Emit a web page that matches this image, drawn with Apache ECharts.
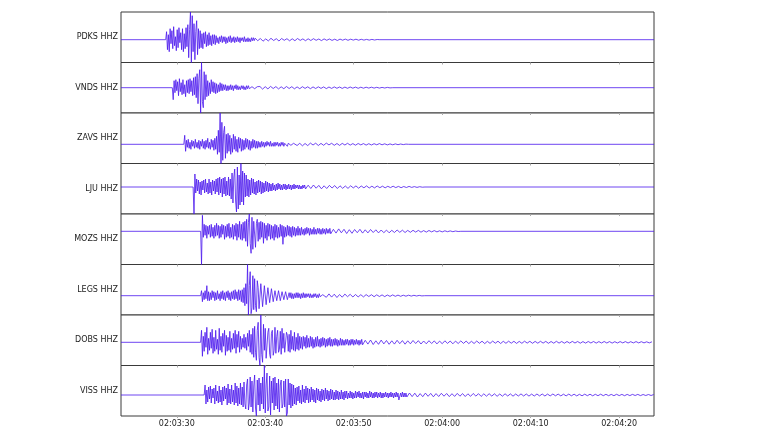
<!DOCTYPE html>
<html>
<head>
<meta charset="utf-8">
<script src="https://cdn.jsdelivr.net/npm/echarts@6/dist/echarts.min.js"></script>
<style>
html,body{margin:0;padding:0;background:#fff;}
#chart{width:768px;height:432px;}
</style>
</head>
<body>
<div id="chart"></div>
<script>
// Time in seconds after 02:03:00
const X_MIN = 23.7;
const X_MAX = 83.93;
const tickSeconds = [30, 40, 50, 60, 70, 80];
const stations = ["PDKS HHZ", "VNDS HHZ", "ZAVS HHZ", "LJU HHZ", "MOZS HHZ", "LEGS HHZ", "DOBS HHZ", "VISS HHZ"];
const onsets = [28.75, 29.5, 30.8, 31.85, 32.7, 32.7, 32.7, 33.1];
const ACTIVE_DT = 0.1;
const TAIL_DT = 0.3;

// Active part of each trace (one sample every ACTIVE_DT s after onset)
const pdksActive = [8,-10,5,-12,11,-4,9,-9,13,-6,3,-11,10,-8,12,-3,7,-10,11,-12,6,-9,12,-7,
  15,-18,10,27.7,-22.8,24,-12,16,-20,8,19,-15,11,-9,
  9,-8,6,-9,7,-4,8,-7,5,-6,7,-5,4,-6,5,-4,5,-5,
  4,-3,2,-4,3,-2,4,-3,3,-2,3,-4,2,-3,3,-2,4,-3,2,-2,3,-3,2,-2,3,-2,2,-3,2,-1,2,-2,3,-2,1,-2,2,-2,1,-2,2,-1,2,-1];
const vndsActive = [-12,7,-5,8,-3,6,-8,9,-4,5,-7,8,-6,3,-9,7,-5,8,-6,9,-4,7,-8,10,-7,11,
  -10,14,-16,9,18,-25.3,25.2,-14,-20,16,-12,13,
  -9,7,-8,5,-6,8,-4,6,-5,5,-6,4,-5,3,-4,5,-3,4,
  -3,3,-2,3,-3,2,-3,2,-2,3,-2,2,-3,2,-1,3,-2,2,-2,1,-2,2,-1,2,-2,1,-2,2,-1,2,-1,1,-2,1,-1,2,-1,1,-1,1,-1,1];
const zavsActive = [9,-7,4,-3,5,-4,2,-5,4,-2,3,-4,5,-3,2,-4,4,-5,3,-2,5,-4,3,-5,4,-3,6,-4,2,-5,5,-3,4,-6,6,-5,
  8,-10,14,-8,31.3,-19.2,22,-16,12,18,-14,10,
  -9,11,-7,9,-10,6,-8,10,-5,8,-7,5,-8,7,-4,6,-7,5,-6,4,-5,6,-3,5,-5,4,-6,3,-4,5,-3,4,-4,3,-4,3,
  -3,2,-3,3,-2,2,-3,2,-2,3,-1,2,-2,3,-2,1,-2,2,-2,2,-1,2,-2,1,-2,2,-1,2,-2,1,-1,2,-2,1,-1,2,-1,1,-2,1];
const ljuActive = [-27,13,-6,8,-4,7,-7,5,-8,6,-3,7,-6,8,-5,4,-7,8,-6,5,-8,7,-4,6,-7,8,-5,9,-8,10,-6,8,-10,9,-7,10,-9,6,-8,10,-9,8,
  -12,14,-16,10,18,-14,-25,20,-22,12,-18,23.5,-15,16,-18,14,-10,12,
  -9,8,-10,7,-8,9,-6,8,-7,5,-8,6,-6,7,-5,6,-7,5,-6,4,-5,6,-4,5,-5,4,
  -4,3,-4,4,-3,2,-4,3,-3,4,-2,3,-3,2,-3,3,-2,3,-3,2,-2,3,-2,2,-3,2,-2,3,-2,2,-1,2,-2,2,-2,1,-2,2,-1,2];
const mozsActive = [-33.2,16,-6,7,-4,6,-7,5,-3,6,-6,7,-5,4,-7,6,-5,8,-4,6,-7,5,-6,7,-3,6,-8,5,-6,7,-5,8,-7,4,-6,7,-8,6,-5,8,-9,7,-6,10,-8,7,-9,9,-7,10,
  -10,12,-15,9,17.3,-12,-22,14,-18,10,12,-16,8,12,
  -10,9,-8,10,-6,9,-12,8,-7,6,-9,8,-5,7,-8,6,-7,5,-9,7,-6,6,-7,4,-6,7,-5,6,-13,5,-6,4,-5,6,-4,5,-5,4,-6,5,-4,4,-5,3,-4,5,
  -4,3,-4,4,-3,2,-4,3,-3,4,-2,3,-4,3,-3,2,-3,4,-3,2,-3,3,-2,3,-3,2,-3,3,-2,2,-3,3,-2,2,-2,3];
const legsActive = [5,-6,3,-4,5,-3,10,-5,4,-5,3,-4,5,-2,4,-5,3,-4,5,-3,2,-5,4,-3,5,-4,3,-5,4,-2,5,-4,3,-5,4,-3,5,-4,6,-3,4,-5,6,-4,5,-6,6,-7,
  8,-10,12,-8,31.2,-19.3,10,24,-18,-12,20,-14,
  17,-10,-16,15,8,-13,-12,12,10,-11,-9,10,8,-9,-7,8,7,-7,-6,7,5,-6,-6,5,6,-5,-4,5,4,-5,-4,4,5,-4,-3,4,3,-4,
  -3,3,-2,3,-3,2,-3,2,-2,3,-2,3,-2,2,-3,2,-2,3,-2,2,-2,2,-1,2,-2,2,-2,1,-2,2,-1,2,-2,1,-2,2,-1,1,-2,1];
const dobsActive = [12,-14,6,-9,10,-5,15,-12,4,-8,10,-6,13,-11,5,-9,12,-7,3,-12,14,-8,6,-10,9,-4,12,-13,7,-9,5,-8,11,-10,4,-7,9,-6,12,-11,8,-5,11,-10,
  6,-7,4,-5,8,-6,5,-8,9,-4,12,-10,8,-12,14,-15,
  16,-10,-18,12,20,-15,-23.2,27.3,-12,-20,18,-8,14,-16,
  -15,10,14,-12,-16,9,12,-13,-8,15,-11,6,12,-10,-7,11,-12,14,-6,9,-10,-11,10,7,-9,8,-10,12,-7,6,-8,10,-9,5,-7,9,-8,6,
  -6,5,-7,6,-4,5,-6,7,-5,4,-5,6,-4,5,-6,3,-5,5,-4,6,-4,3,-5,4,-4,5,-3,4,-5,3,-4,4,-3,5,-4,3,-4,3,-3,4,-3,3,-4,2,-3,4,-3,3,-3,2,-3,3,-2,3,-3,2,-3,3,-2,3,-3,2,-2,3,-2,2,-3,2,-2,3];
const vissActive = [10,-9,5,-7,8,-4,9,-8,6,-3,7,-9,10,-6,4,-8,9,-7,5,-10,8,-6,9,-4,7,-10,11,-8,6,-9,10,-7,5,-10,12,-8,9,-11,7,-9,12,-10,8,-12,13,-9,
  -14,10,16,-15,-8,18,-12,14,-17,9,20,-13,-21,15,-10,17,-16,12,-9,18,-14,29.5,-18,10,22,-16,-12,19,-20,14,-8,17,-15,18,-11,12,-14,16,-17,10,15,-13,-9,14,-12,16,-21,-18,16,-10,12,-13,11,-11,
  10,-9,7,-10,8,-6,9,-8,5,-9,10,-7,6,-8,9,-5,7,-8,6,-7,8,-5,6,-7,5,-8,7,-5,6,-6,4,-7,6,-5,5,-6,7,-4,5,-6,4,-5,6,-4,5,-5,3,-5,5,-4,4,-5,3,-4,5,-4,3,-5,
  4,-3,4,-4,2,-3,4,-3,3,-4,2,-3,4,-3,3,-2,4,-3,2,-3,3,-4,3,-2,3,-3,2,-3,4,-2,3,-3,2,-3,3,-2,3,-3,2,-2,3,-3,2,-3,2,-2,3,-2,2,-3,2,-2,3,-2,2,-3,2,-2,3,-2,2,-5,-3,2,-2,3,-2,2,-2,2];

// Coda tails (one sample every TAIL_DT s after the active part)
const pdksTail = [1.5,-1,1.2,-1.5,0.8,-1.2,1.4,-0.8,1,-1.3,1.2,-0.6,1,-1.1,0.9,-1,1.2,-0.7,0.8,-1,0.9,-0.8,1,-0.6,0.7,-0.9,0.8,-0.6,0.7,-0.7,0.5,-0.8,0.6,-0.5,0.6,-0.6,0.5,-0.4,0.5,-0.5,0.4,-0.4,0.3,-0.4,0.3,-0.3,0.2];
const vndsTail = [1.2,-1.4,1,-1.2,1.3,-0.8,1.1,-1.2,0.9,-1,1.2,-0.8,1,-1.1,0.8,-1,1,-0.7,0.9,-1,0.8,-0.8,0.9,-0.7,0.8,-0.9,0.7,-0.7,0.8,-0.6,0.7,-0.7,0.6,-0.6,0.7,-0.5,0.6,-0.6,0.5,-0.5,0.5,-0.4,0.5,-0.4,0.4,-0.4,0.3,-0.3,0.3,-0.2];
const zavsTail = [1.5,-1.2,1,-1.5,0.8,-1.3,1.2,-0.7,1.1,-1.2,0.9,-1,1.2,-0.6,1,-1,0.8,-1.1,0.9,-0.7,1,-0.8,0.7,-0.9,0.8,-0.6,0.7,-0.8,0.6,-0.7,0.6,-0.5,0.7,-0.5,0.5,-0.6,0.4,-0.5,0.4,-0.4,0.3,-0.3,0.2];
const ljuTail = [-2,1.8,-1.5,2,-1.2,1.6,-1.8,1.2,-1.5,1.6,-1,1.4,-1.5,1.2,-1.3,1,-1.4,1.2,-0.9,1.1,-1.2,1,-0.8,1.1,-1,0.8,-0.9,1,-0.7,0.8,-0.8,0.7,-0.6,0.8,-0.6,0.6,-0.7,0.5,-0.5,0.6,-0.4,0.4,-0.4,0.3,-0.2];
const mozsTail = [-2.5,2,-1.8,2.4,-1.5,2,-2.2,1.6,-2,1.8,-1.4,2,-1.8,1.5,-1.6,1.8,-1.2,1.5,-1.6,1.3,-1.4,1.2,-1.5,1,-1.2,1.3,-1,1.1,-1.2,0.9,-1,1,-0.8,0.9,-0.9,0.7,-0.8,0.8,-0.6,0.7,-0.6,0.5,-0.6,0.5,-0.4,0.4,-0.4,0.3,-0.2];
const legsTail = [2,-1.6,1.8,-1.4,1.5,-1.8,1.2,-1.5,1.6,-1,1.4,-1.3,1.2,-1.2,1,-1.2,1.1,-0.8,1,-1,0.9,-0.8,0.8,-0.9,0.7,-0.7,0.8,-0.6,0.6,-0.6,0.5,-0.5,0.5,-0.4,0.4,-0.3,0.3,-0.2];
const dobsTail = [-2.5,2,-1.8,2.3,-2.2,1.5,-2,2.2,-1.6,1.8,-2,1.5,-1.8,2,-1.4,1.7,-1.9,1.5,-1.5,1.8,-1.2,1.6,-1.7,1.3,-1.5,1.6,-1.2,1.4,-1.6,1.2,-1.4,1.5,-1.1,1.3,-1.5,1.2,-1.2,1.4,-1.1,1.2,-1.3,1,-1.2,1.3,-1,1.1,-1.3,1,-1.1,1.2,-0.9,1.1,-1.2,1,-1,1.1,-0.9,1,-1.1,0.9,-1,1.1,-0.8,1,-1,0.9,-0.9,1,-0.8,0.9,-1,0.8,-0.9,1,-0.8,0.8,-0.9,0.8,-0.8,0.9,-0.7,0.8,-0.9,0.7,-0.8,0.8,-0.7,0.8,-0.8,0.7,-0.7,0.8,-0.7,0.7,-0.8,0.6,-0.7,0.7,-0.6,0.7,-0.7,0.6,-0.6,0.7,-0.6,0.6,-0.6,0.5,-0.6,0.5];
const vissTail = [-2,2,-1.6,1.8,-2,1.4,-1.7,1.9,-1.3,1.6,-1.8,1.4,-1.5,1.7,-1.2,1.5,-1.6,1.3,-1.4,1.6,-1.2,1.4,-1.5,1.2,-1.3,1.5,-1.1,1.3,-1.4,1.2,-1.2,1.3,-1.1,1.2,-1.3,1,-1.2,1.2,-1,1.1,-1.2,1,-1,1.1,-1,1,-1.1,0.9,-1,1,-0.9,1,-1,0.9,-0.9,1,-0.8,0.9,-0.9,0.8,-0.9,0.9,-0.8,0.8,-0.9,0.7,-0.8,0.8,-0.7,0.8,-0.8,0.7,-0.7,0.8,-0.7,0.7,-0.7,0.6,-0.7,0.7,-0.6,0.6,-0.7,0.6,-0.6,0.6,-0.5,0.6,-0.6,0.5,-0.5,0.5,-0.5,0.5];

const actives = [pdksActive, vndsActive, zavsActive, ljuActive, mozsActive, legsActive, dobsActive, vissActive];
const tails = [pdksTail, vndsTail, zavsTail, ljuTail, mozsTail, legsTail, dobsTail, vissTail];

function buildTrace(k) {
  const t0 = onsets[k];
  const d = [[X_MIN, 0], [t0, 0]];
  const a = actives[k];
  for (let i = 0; i < a.length; i++) d.push([t0 + (i + 1) * ACTIVE_DT, a[i]]);
  const ts = t0 + (a.length + 1) * ACTIVE_DT;
  const tl = tails[k];
  for (let j = 0; j < tl.length; j++) d.push([ts + j * TAIL_DT, tl[j]]);
  const te = ts + tl.length * TAIL_DT;
  if (te < X_MAX) { d.push([te, 0]); d.push([X_MAX, 0]); }
  return d;
}

function fmtTime(v) {
  const s = Math.round(v);
  const m = 3 + Math.floor(s / 60);
  const ss = s % 60;
  return '02:' + String(m).padStart(2, '0') + ':' + String(ss).padStart(2, '0');
}

const TOP = 12, PANEL_H = 50.5, LEFT = 121, RIGHT = 114;
const FONT = 'DejaVu Sans';
const grids = [], xAxes = [], yAxes = [], series = [];
stations.forEach((name, k) => {
  grids.push({
    left: LEFT, right: RIGHT, top: TOP + k * PANEL_H, height: PANEL_H,
    show: true, borderColor: '#3a3a3a', borderWidth: 1, backgroundColor: '#fff'
  });
  const last = k === stations.length - 1;
  xAxes.push({
    type: 'value', gridIndex: k, min: X_MIN, max: X_MAX, position: 'bottom',
    axisLine: { show: false, onZero: false },
    splitLine: { show: false },
    axisTick: { show: true, customValues: tickSeconds, length: 2, lineStyle: { color: '#aaa' } },
    axisLabel: {
      show: last, customValues: tickSeconds, formatter: fmtTime,
      fontFamily: FONT, fontSize: 8, color: '#222', margin: 4
    }
  });
  yAxes.push({
    type: 'value', gridIndex: k, min: 'dataMin', max: 'dataMax',
    axisLine: { show: false }, axisTick: { show: false }, axisLabel: { show: false },
    splitLine: { show: false },
    name: name, nameLocation: 'middle', nameRotate: 0, nameGap: 3,
    nameTextStyle: { fontFamily: FONT, fontSize: 8, color: '#222', align: 'right', verticalAlign: 'middle' }
  });
  series.push({
    type: 'line', xAxisIndex: k, yAxisIndex: k, data: buildTrace(k),
    showSymbol: false, symbol: 'none', sampling: null,
    lineStyle: { color: '#4a16ee', width: 0.8 },
    silent: true, animation: false
  });
});

const chart = echarts.init(document.getElementById('chart'), null, { renderer: 'canvas' });
chart.setOption({
  backgroundColor: '#fff',
  animation: false,
  grid: grids, xAxis: xAxes, yAxis: yAxes, series: series
});
</script>
</body>
</html>
